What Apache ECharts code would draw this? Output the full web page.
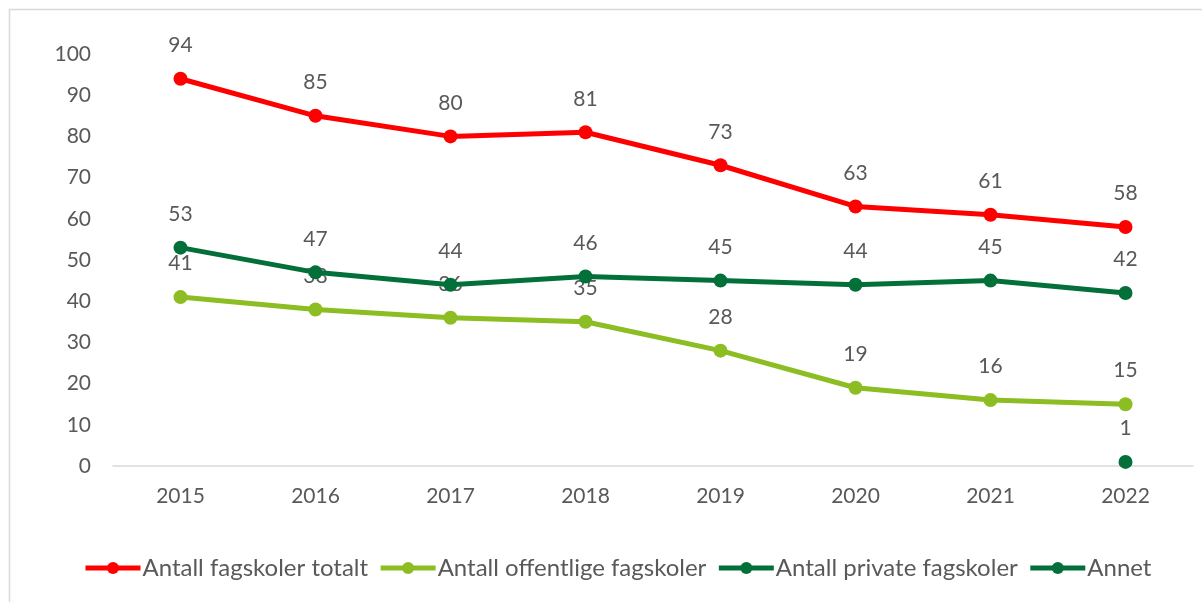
<!DOCTYPE html>
<html>
<head>
<meta charset="utf-8">
<script src="https://cdn.jsdelivr.net/npm/echarts@6/dist/echarts.min.js"></script>
<style>html,body{margin:0;padding:0;background:#fff}#c{width:1202px;height:602px}</style>
</head>
<body>
<div id="c"></div>
<script>
const years = ['2015','2016','2017','2018','2019','2020','2021','2022'];
const totalt = [94, 85, 80, 81, 73, 63, 61, 58];
const offentlige = [41, 38, 36, 35, 28, 19, 16, 15];
const private_ = [53, 47, 44, 46, 45, 44, 45, 42];
const annet = [null, null, null, null, null, null, null, 1];
const seriesNames = ['Antall fagskoler totalt', 'Antall offentlige fagskoler', 'Antall private fagskoler', 'Annet'];
const colors = ['#FF0000', '#8CBD22', '#03703A', '#03703A'];

const font = 'Lato, Open Sans, sans-serif';
const chart = echarts.init(document.getElementById('c'));
function mk(name, data, color, z) {
  return {
    name: name, type: 'line', data: data, z: z,
    symbol: 'circle', symbolSize: 14,
    lineStyle: {width: 5, color: color},
    itemStyle: {color: color},
    label: {show: true, position: 'top', distance: 16, color: '#595959', fontSize: 21, fontFamily: font},
    emphasis: {disabled: true},
    animation: false
  };
}
chart.setOption({
  animation: false,
  graphic: [{type: 'rect', shape: {x: 9.5, y: 9.5, width: 1300, height: 700}, style: {fill: 'none', stroke: '#D9D9D9', lineWidth: 1.5}, silent: true}],
  grid: {left: 113, right: 9, top: 54, bottom: 136},
  legend: {
    bottom: 17, left: 78, itemGap: 10, itemWidth: 55, itemHeight: 15,
    lineStyle: {width: 5},
    textStyle: {color: '#595959', fontSize: 24, fontFamily: font, padding: [0, 0, 0, -3]},
    data: seriesNames,
  },
  xAxis: {
    type: 'category', data: years, boundaryGap: true,
    axisLine: {lineStyle: {color: '#D9D9D9', width: 1.5}},
    axisTick: {show: false},
    axisLabel: {color: '#595959', fontSize: 21, fontFamily: font, margin: 20}
  },
  yAxis: {
    type: 'value', min: 0, max: 100, interval: 10,
    splitLine: {show: false},
    axisLine: {show: false}, axisTick: {show: false},
    axisLabel: {color: '#595959', fontSize: 21, fontFamily: font, margin: 22}
  },
  series: [
    mk(seriesNames[0], totalt, colors[0], 4),
    mk(seriesNames[1], offentlige, colors[1], 2),
    mk(seriesNames[2], private_, colors[2], 3),
    mk(seriesNames[3], annet, colors[3], 5)
  ]
});
</script>
</body>
</html>
